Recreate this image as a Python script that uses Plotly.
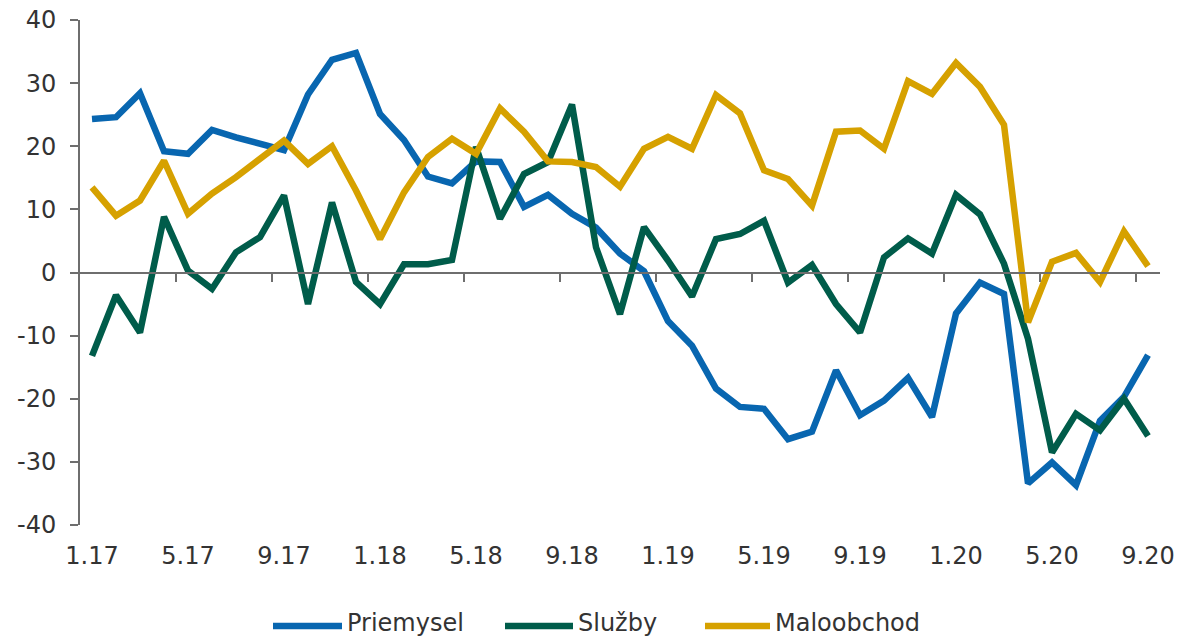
import plotly.graph_objects as go

months = ["1.17","2.17","3.17","4.17","5.17","6.17","7.17","8.17","9.17","10.17","11.17","12.17",
          "1.18","2.18","3.18","4.18","5.18","6.18","7.18","8.18","9.18","10.18","11.18","12.18",
          "1.19","2.19","3.19","4.19","5.19","6.19","7.19","8.19","9.19","10.19","11.19","12.19",
          "1.20","2.20","3.20","4.20","5.20","6.20","7.20","8.20","9.20"]

priemysel = [24.3, 24.6, 28.4, 19.2, 18.8, 22.6, 21.4, 20.5, 19.4, 28.2, 33.7, 34.8,
             25.1, 21.0, 15.2, 14.1, 17.6, 17.5, 10.4, 12.3, 9.3, 7.1, 3.0, 0.2,
             -7.7, -11.6, -18.4, -21.3, -21.6, -26.4, -25.2, -15.5, -22.6, -20.3, -16.7, -22.9,
             -6.5, -1.6, -3.4, -33.4, -30.1, -33.7, -23.5, -19.7, -13.1]

sluzby = [-13.2, -3.6, -9.5, 8.8, 0.3, -2.6, 3.2, 5.6, 12.2, -5.0, 11.1, -1.5,
          -5.0, 1.3, 1.3, 2.0, 19.9, 8.5, 15.6, 17.5, 26.6, 4.0, -6.6, 7.2,
          1.9, -3.8, 5.3, 6.1, 8.2, -1.6, 1.2, -5.0, -9.5, 2.4, 5.4, 3.0,
          12.3, 9.2, 1.4, -10.5, -28.5, -22.4, -25.0, -20.0, -25.9]

maloobchod = [13.5, 9.0, 11.4, 17.7, 9.3, 12.5, 15.1, 18.0, 20.9, 17.2, 20.0, 13.0,
              5.3, 12.7, 18.3, 21.2, 18.8, 26.0, 22.3, 17.6, 17.5, 16.7, 13.6, 19.6,
              21.5, 19.6, 28.1, 25.2, 16.2, 14.8, 10.6, 22.3, 22.5, 19.6, 30.3, 28.3,
              33.2, 29.4, 23.4, -7.9, 1.7, 3.1, -1.5, 6.5, 1.0]

series_names = ["Priemysel", "Služby", "Maloobchod"]
colors = ["#0866b0", "#005c4a", "#d6a100"]

y_ticks = [40, 30, 20, 10, 0, -10, -20, -30, -40]
y_ticktext = ["40", "30", "20", "10", "0", "-10", "-20", "-30", "-40"]

idx = list(range(len(months)))
label_idx = idx[::4]
label_text = [months[i] for i in label_idx]
boundary_ticks = [i + 3.5 for i in range(0, len(months) - 4, 4)]

FONT = "DejaVu Sans"
AXIS_COLOR = "#6e6e6e"
TEXT_COLOR = "#333333"
TICK_SIZE = 24
LEGEND_SIZE = 24

# layout geometry (pixels)
W, H = 1182, 640
ML, MR, MT, MB = 80, 22, 20, 115
PW, PH = W - ML - MR, H - MT - MB


def px_to_paper_x(px):
    return (px - ML) / PW


def px_to_paper_y(py):
    return (H - MB - py) / PH


fig = go.Figure()
for name, vals, col in zip(series_names, [priemysel, sluzby, maloobchod], colors):
    fig.add_trace(go.Scatter(x=idx, y=vals, mode="lines", name=name,
                             line=dict(color=col, width=6.5, shape="linear"),
                             xaxis="x", yaxis="y", showlegend=False))

# dummy trace for the label axis
fig.add_trace(go.Scatter(x=[idx[0], idx[-1]], y=[None, None], xaxis="x2", yaxis="y",
                         showlegend=False, hoverinfo="skip", mode="lines"))

# custom legend (line sample + text), positioned in paper coordinates
legend_sample_px = [(273, 342), (505, 573), (705, 770)]
legend_y_px = 623
shapes = []
annotations = []
for name, col, (x0, x1) in zip(series_names, colors, legend_sample_px):
    shapes.append(dict(type="line", xref="paper", yref="paper",
                       x0=px_to_paper_x(x0), x1=px_to_paper_x(x1),
                       y0=px_to_paper_y(legend_y_px + 3), y1=px_to_paper_y(legend_y_px + 3),
                       line=dict(color=col, width=6.5)))
    annotations.append(dict(xref="paper", yref="paper",
                            x=px_to_paper_x(x1 + 4), y=px_to_paper_y(legend_y_px),
                            xanchor="left", yanchor="middle", text=name, showarrow=False,
                            borderpad=0,
                            font=dict(family=FONT, size=LEGEND_SIZE, color=TEXT_COLOR)))

fig.update_layout(
    width=W, height=H,
    margin=dict(l=ML, r=MR, t=MT, b=MB, pad=0, autoexpand=False),
    paper_bgcolor="white", plot_bgcolor="white",
    font=dict(family=FONT, size=TICK_SIZE, color=TEXT_COLOR),
    showlegend=False,
    xaxis=dict(range=[-0.5, len(months) - 0.5], anchor="free", position=0.5,
               showline=True, linecolor=AXIS_COLOR, linewidth=2,
               ticks="outside", ticklen=8, tickwidth=2, tickcolor=AXIS_COLOR,
               tickvals=boundary_ticks, showticklabels=False, automargin=False,
               showgrid=False, zeroline=False, fixedrange=True),
    xaxis2=dict(overlaying="x", matches="x", anchor="y", side="bottom",
                range=[-0.5, len(months) - 0.5], automargin=False,
                tickvals=label_idx, ticktext=label_text, ticks="",
                ticklabelstandoff=14,
                showline=False, showgrid=False, zeroline=False,
                tickfont=dict(family=FONT, size=TICK_SIZE, color=TEXT_COLOR)),
    yaxis=dict(range=[-40, 40], tickvals=y_ticks, ticktext=y_ticktext,
               showline=True, linecolor=AXIS_COLOR, linewidth=2,
               ticks="outside", ticklen=8, tickwidth=2, tickcolor=AXIS_COLOR,
               ticklabelstandoff=9, automargin=False,
               showgrid=False, zeroline=False,
               tickfont=dict(family=FONT, size=TICK_SIZE, color=TEXT_COLOR)),
    shapes=shapes,
    annotations=annotations,
)

fig.write_html("out.html")
